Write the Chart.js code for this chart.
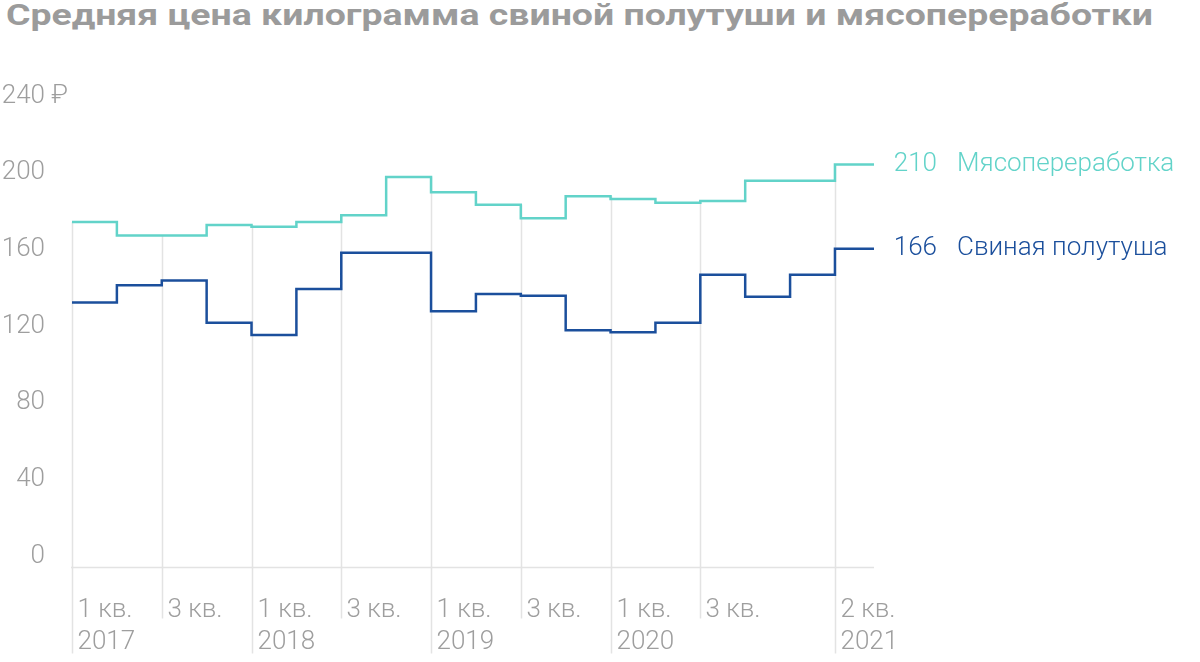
<!DOCTYPE html>
<html>
<head>
<meta charset="utf-8">
<script src="https://cdn.jsdelivr.net/npm/chart.js@4.4.1/dist/chart.umd.min.js"></script>
<style>
  html, body { margin: 0; padding: 0; background: #fff; }
  #wrap { position: relative; width: 1200px; height: 662px; overflow: hidden; }
  #title { position: absolute; left: 6px; top: -3px; font: bold 30px Roboto, sans-serif; color: #9b9b9b; white-space: nowrap; transform-origin: 0 0; }
  canvas { position: absolute; left: 0; top: 0; }
</style>
</head>
<body>
<div id="wrap">
  <div id="title">Средняя цена килограмма свиной полутуши и мясопереработки</div>
  <canvas id="chart" width="1200" height="662"></canvas>
</div>
<script>
// quarters 1 кв. 2017 ... 2 кв. 2021, руб. за кг
const quarters = ['1 кв. 2017','2 кв. 2017','3 кв. 2017','4 кв. 2017',
                  '1 кв. 2018','2 кв. 2018','3 кв. 2018','4 кв. 2018',
                  '1 кв. 2019','2 кв. 2019','3 кв. 2019','4 кв. 2019',
                  '1 кв. 2020','2 кв. 2020','3 кв. 2020','4 кв. 2020',
                  '1 кв. 2021','2 кв. 2021'];
const meat = [180, 173, 173, 178.5, 177.5, 180, 183.5, 203.5, 195.5, 189, 182, 193.5, 192, 190, 191, 201.5, 201.5, 210];
const pork = [138, 147, 149.5, 127.5, 121, 145, 164, 164, 133.5, 142.5, 141.5, 123.5, 122.5, 127.5, 152.5, 141, 152.5, 166];
const seriesNames = ['Мясопереработка', 'Свиная полутуша'];

const tickIndex = [0, 2, 4, 6, 8, 10, 12, 14, 17];
const tickLine1 = ['1 кв.','3 кв.','1 кв.','3 кв.','1 кв.','3 кв.','1 кв.','3 кв.','2 кв.'];
const tickLine2 = ['2017','','2018','','2019','','2020','','2021'];
const yTicks = [0, 40, 80, 120, 160, 200, 240];

const meatColor = '#62d3c9';
const porkColor = '#1b4f9c';
const greyText = '#9e9e9e';
const gridColor = '#e3e3e3';
const labelFont = '300 26px Roboto';
const tail = 0.87; // last quarter drawn partly

// stretch the title to the width it has in the original layout
const title = document.getElementById('title');
title.style.transform = 'scaleX(' + (1147 / title.offsetWidth) + ')';

function toPoints(arr) {
  const pts = arr.map((v, i) => ({ x: i, y: v }));
  pts.push({ x: arr.length - 1 + tail, y: arr[arr.length - 1] });
  return pts;
}

const decor = {
  id: 'decor',
  beforeDatasetsDraw(chart) {
    const { ctx, chartArea, scales: { x, y } } = chart;
    const y0 = Math.round(y.getPixelForValue(0)) + 0.5;
    ctx.save();
    ctx.strokeStyle = gridColor;
    ctx.lineWidth = 1.5;
    ctx.beginPath();
    ctx.moveTo(chartArea.left - 1, y0);
    ctx.lineTo(chartArea.right, y0);
    ctx.stroke();

    ctx.font = labelFont;
    ctx.fillStyle = greyText;
    ctx.textBaseline = 'middle';
    tickIndex.forEach((q, k) => {
      const px = Math.round(x.getPixelForValue(q)) + 0.5;
      const top = Math.max(meat[q], q > 0 ? meat[q - 1] : meat[q]);
      const bottom = tickLine2[k] ? y0 + 86 : y0 + 51;
      ctx.beginPath();
      ctx.moveTo(px, y.getPixelForValue(top));
      ctx.lineTo(px, bottom);
      ctx.stroke();
      ctx.textAlign = 'left';
      ctx.fillText(tickLine1[k], px + 5, y0 + 43);
      if (tickLine2[k]) ctx.fillText(tickLine2[k], px + 5, y0 + 75);
    });

    yTicks.forEach(v => {
      const py = y.getPixelForValue(v) - 11;
      ctx.textAlign = 'right';
      ctx.fillText(String(v), 45, py);
      if (v === yTicks[yTicks.length - 1]) {
        ctx.textAlign = 'left';
        ctx.fillText(' ₽', 45, py);
      }
    });
    ctx.restore();
  },
  afterDatasetsDraw(chart) {
    const { ctx, chartArea, scales: { y } } = chart;
    ctx.save();
    ctx.font = labelFont;
    ctx.textBaseline = 'middle';
    chart.data.datasets.forEach((ds, i) => {
      const last = ds.data[ds.data.length - 1].y;
      const py = y.getPixelForValue(last);
      ctx.fillStyle = ds.borderColor;
      ctx.textAlign = 'right';
      ctx.fillText(String(Math.round(last)), chartArea.right + 63, py);
      ctx.textAlign = 'left';
      ctx.fillText(seriesNames[i], chartArea.right + 83, py);
    });
    ctx.restore();
  }
};

new Chart(document.getElementById('chart'), {
  type: 'line',
  data: {
    datasets: [
      { label: seriesNames[0], data: toPoints(meat), borderColor: meatColor, borderWidth: 2.5, stepped: 'before', pointRadius: 0, fill: false },
      { label: seriesNames[1], data: toPoints(pork), borderColor: porkColor, borderWidth: 2.5, stepped: 'before', pointRadius: 0, fill: false }
    ]
  },
  options: {
    responsive: false,
    animation: false,
    devicePixelRatio: 1,
    layout: { padding: { left: 72, right: 326, top: 107, bottom: 95 } },
    plugins: { legend: { display: false }, tooltip: { enabled: false }, title: { display: false } },
    scales: {
      x: { type: 'linear', display: false, min: 0, max: quarters.length - 1 + tail },
      y: { display: false, min: 0, max: 240 }
    }
  },
  plugins: [decor]
});
</script>
</body>
</html>
